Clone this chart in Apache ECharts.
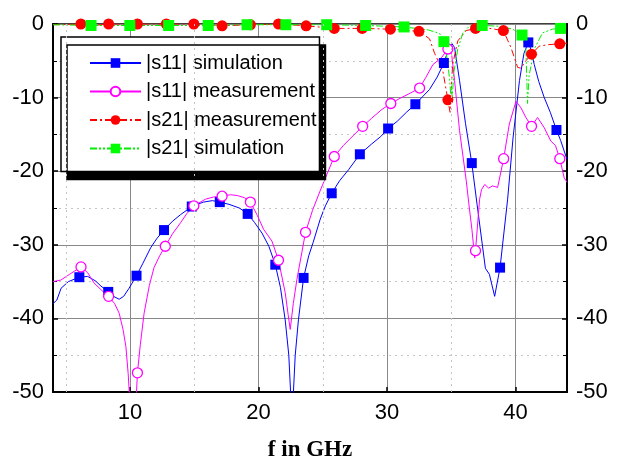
<!DOCTYPE html>
<html><head><meta charset="utf-8">
<script src="https://cdn.jsdelivr.net/npm/echarts@6/dist/echarts.min.js"></script>
<style>html,body{margin:0;padding:0;background:#fff}#c{width:622px;height:457px}</style>
</head><body><div id="c"></div>
<script>
// ---- data (frequency in GHz, level in dB) ----
const xTickValues = [10, 20, 30, 40];
const xMinorGrid = [5, 15, 25, 35];
const seriesNames = ['|s11| simulation', '|s11| measurement', '|s21| measurement', '|s21| simulation'];

// |s11| simulation: trace
const s11SimF = [4.0,4.3,4.63,5.2,6.7,7.3,7.73,8.7,9.15,9.5,9.92,11.0,11.6,12.1,13.3,13.93,15.7,16.4,17.7,18.5,19.7,20.26,20.8,21.7,22.07,22.35,22.6,22.85,23.1,23.9,24.24,24.8,25.2,26.3,27.0,28.8,29.5,30.8,31.5,32.8,33.3,33.9,34.75,35.04,35.25,35.64,36.1,37.0,37.65,37.96,38.37,39.38,39.8,40.3,40.65,41.2,41.45,41.8,42.23,42.7,43.5,44.0];
const s11SimV = [-38.0,-37.5,-35.9,-35.0,-34.3,-34.9,-35.6,-37.0,-37.4,-37.0,-35.9,-32.5,-30.4,-29.1,-26.8,-25.9,-24.2,-24.0,-24.5,-25.0,-27.0,-28.4,-30.2,-35.8,-40.2,-45.0,-54.0,-45.0,-40.2,-31.5,-29.7,-26.5,-24.7,-21.3,-19.8,-16.3,-15.3,-13.2,-12.0,-9.8,-8.9,-7.2,-3.6,-2.65,-3.2,-7.7,-13.5,-24.5,-33.2,-34.0,-37.0,-23.8,-15.5,-7.7,-4.0,-3.5,-5.5,-7.8,-10.0,-12.0,-15.8,-18.4];
const s11SimMarkF = [6.05,8.3,10.5,12.64,14.8,16.98,19.15,21.3,23.5,25.69,27.88,30.08,32.2,34.42,36.59,38.79,40.99,43.18];
const s11SimMarkV = [-34.4,-36.4,-34.2,-28.0,-24.8,-24.2,-25.8,-32.7,-34.5,-23.0,-17.7,-14.2,-10.9,-5.3,-18.9,-33.1,-2.5,-14.4];

// |s11| measurement
const s11MeasF = [4.0,4.6,5.3,6.7,7.2,7.8,8.8,9.15,9.45,9.67,9.85,10.0,10.3,10.5,10.8,11.09,11.5,11.86,12.3,13.3,13.93,14.4,15.87,16.5,17.8,18.33,18.9,19.9,20.39,21.04,22.07,22.3,22.46,22.7,22.98,23.36,24.2,24.78,25.3,26.6,27.4,28.8,29.6,31.0,31.8,33.0,33.57,34.22,34.87,35.05,35.25,35.64,36.16,36.4,36.6,36.82,37.2,37.35,37.6,37.9,38.2,38.6,39.51,40.03,40.42,40.8,41.71,42.23,42.74,43.1,43.78,44.0];
const s11MeasV = [-35.0,-34.8,-34.0,-33.8,-35.2,-36.2,-38.0,-39.3,-41.5,-43.8,-47.5,-52.0,-54.0,-50.0,-43.5,-39.3,-35.5,-33.1,-31.5,-28.5,-27.0,-25.8,-23.8,-23.5,-23.2,-23.3,-23.6,-26.0,-27.9,-29.5,-36.5,-39.5,-41.5,-38.0,-34.7,-31.1,-25.3,-22.7,-20.5,-16.5,-15.1,-12.8,-11.6,-10.1,-9.4,-7.3,-5.5,-4.6,-3.0,-4.5,-7.7,-14.5,-21.3,-25.0,-27.9,-31.8,-23.8,-22.5,-21.8,-22.3,-22.0,-22.2,-13.6,-10.5,-11.4,-12.7,-12.7,-14.1,-15.9,-16.5,-20.9,-21.5];
const s11MeasMarkF = [6.18,8.33,10.57,12.74,14.96,17.16,19.36,21.55,23.65,25.89,28.1,30.29,32.53,34.73,36.88,39.07,41.24,43.44];
const s11MeasMarkV = [-33.0,-37.0,-47.4,-30.2,-24.7,-23.4,-24.2,-32.1,-28.3,-18.0,-13.9,-10.8,-8.7,-3.4,-30.8,-18.3,-13.9,-18.3];

// |s21| measurement
const s21MeasF = [4.0,7.2,33.3,33.7,34.34,34.9,35.1,35.5,36.15,38.0,39.64,40.16,40.42,40.8,41.84,42.6,44.0];
const s21MeasV = [-0.1,-0.2,-2.0,-4.0,-6.4,-12.0,-5.5,-2.3,-0.9,-0.6,-3.2,-5.9,-6.0,-5.0,-3.0,-2.8,-2.6];
const s21MeasMarkF = [6.17,8.33,10.57,12.82,14.96,17.16,19.36,21.55,23.7,25.89,28.06,30.26,32.48,34.73,36.88,39.05,41.24,43.44];
const s21MeasMarkV = [0.0,0.0,0.0,0.0,0.0,-0.25,-0.1,0.0,-0.25,-0.6,-0.6,-0.7,-1.0,-10.3,-0.6,-0.9,-4.1,-2.7];

// |s21| simulation
const s21SimF = [4.0,33.2,34.09,34.7,34.86,34.95,35.0,35.07,35.2,35.5,35.9,36.4,38.7,39.77,40.8,40.93,41.05,41.2,41.45,42.1,42.87,44.0];
const s21SimV = [-0.1,-0.8,-1.3,-5.0,-7.5,-9.5,-8.5,-10.0,-6.5,-3.4,-1.2,-0.3,-0.3,-0.7,-3.4,-10.8,-7.0,-5.7,-3.4,-1.2,-0.7,-0.4];
const s21SimMarkF = [6.96,9.98,13.0,16.08,19.1,22.12,25.3,28.33,31.32,34.42,37.4,40.5,43.5];
const s21SimMarkV = [-0.2,-0.2,-0.2,-0.2,-0.1,-0.1,-0.1,-0.2,-0.4,-2.4,-0.2,-1.5,-0.6];

// ---- build ----
function build(f, v, mf, mv) {
  const pts = [];
  f.forEach((x, i) => pts.push({ value: [x, v[i]], symbol: 'none' }));
  mf.forEach((x, i) => pts.push({ value: [x, mv[i]] }));
  pts.sort((a, b) => a.value[0] - b.value[0]);
  return pts;
}
const FONT = 'Liberation Sans, Arial, sans-serif';
const chart = echarts.init(document.getElementById('c'), null, { renderer: 'canvas' });
const baseLine = (name, data, color, symbol, size, type, extra) => Object.assign({
  name, type: 'line', data, showSymbol: true, showAllSymbol: true, symbol, symbolSize: size,
  lineStyle: { color, width: 1, type }, itemStyle: { color }, animation: false, z: 3
}, extra || {});

chart.setOption({
  animation: false,
  backgroundColor: '#fff',
  grid: { left: 53, right: 55, top: 24, bottom: 65, show: true, borderColor: '#000', borderWidth: 1.5,
          containLabel: false, outerBoundsMode: 'none' },
  legend: {
    orient: 'vertical', left: 61, top: 37, padding: [16, 3, 13, 28],
    itemWidth: 51, itemHeight: 12, itemGap: 8.5,
    backgroundColor: '#fff', borderColor: '#000', borderWidth: 1.5,
    shadowColor: '#000', shadowOffsetX: 6, shadowOffsetY: 8, shadowBlur: 0,
    textStyle: { fontSize: 20, fontFamily: FONT, color: '#000', lineHeight: 20 },
    data: seriesNames
  },
  xAxis: {
    type: 'value', min: 4, max: 44,
    axisLine: { show: true, onZero: false, lineStyle: { color: '#000', width: 2 } },
    axisTick: { show: true, inside: true, length: 5, customValues: xTickValues, lineStyle: { color: '#000', width: 1.5 } },
    axisLabel: { customValues: xTickValues, fontSize: 22, fontFamily: FONT, color: '#000', margin: 10 },
    splitLine: { show: true, lineStyle: { color: '#888', width: 1 } },
    name: 'f in GHz', nameLocation: 'middle', nameGap: 47,
    nameTextStyle: { fontFamily: 'Liberation Serif, Times New Roman, serif', fontWeight: 'bold', fontSize: 23, color: '#000' }
  },
  yAxis: [{
    type: 'value', min: -50, max: 0, interval: 10, position: 'left',
    axisLine: { show: true, lineStyle: { color: '#000', width: 2 } },
    axisTick: { show: true, inside: true, length: 5, lineStyle: { color: '#000', width: 1.5 } },
    minorTick: { show: true, splitNumber: 2, length: 4, lineStyle: { color: '#000' } },
    axisLabel: { fontSize: 22, fontFamily: FONT, color: '#000', margin: 9 },
    splitLine: { show: true, lineStyle: { color: '#888', width: 1 } },
    minorSplitLine: { show: true, lineStyle: { color: '#c4c4c4', width: 1, type: [2, 4] } }
  }, {
    type: 'value', min: -50, max: 0, interval: 10, position: 'right',
    axisLine: { show: true, lineStyle: { color: '#000', width: 2 } },
    axisTick: { show: true, inside: true, length: 5, lineStyle: { color: '#000', width: 1.5 } },
    minorTick: { show: true, splitNumber: 2, length: 4, lineStyle: { color: '#000' } },
    axisLabel: { fontSize: 22, fontFamily: FONT, color: '#000', margin: 9 },
    splitLine: { show: false }
  }],
  series: [
    { name: 'grid-minor', type: 'line', data: [[4, -100]], symbol: 'none', silent: true, z: 1,
      lineStyle: { width: 0 },
      markLine: { silent: true, symbol: 'none', label: { show: false }, animation: false,
        lineStyle: { color: '#c4c4c4', width: 1, type: [2, 4] },
        data: xMinorGrid.map(x => ({ xAxis: x })) } },
    baseLine(seriesNames[0], build(s11SimF, s11SimV, s11SimMarkF, s11SimMarkV), '#0000ff', 'rect', 10, 'solid'),
    baseLine(seriesNames[1], build(s11MeasF, s11MeasV, s11MeasMarkF, s11MeasMarkV), '#ff00ff', 'circle', 10, 'solid',
      { itemStyle: { color: '#fff', borderColor: '#ff00ff', borderWidth: 1.3 } }),
    baseLine(seriesNames[2], build(s21MeasF, s21MeasV, s21MeasMarkF, s21MeasMarkV), '#ff0000', 'circle', 11, [7, 3, 2, 3]),
    baseLine(seriesNames[3], build(s21SimF, s21SimV, s21SimMarkF, s21SimMarkV), '#00ee00', 'rect', 11, [7, 2, 2, 2, 2, 2],
      { itemStyle: { color: '#00ff00' } })
  ]
});
</script></body></html>
